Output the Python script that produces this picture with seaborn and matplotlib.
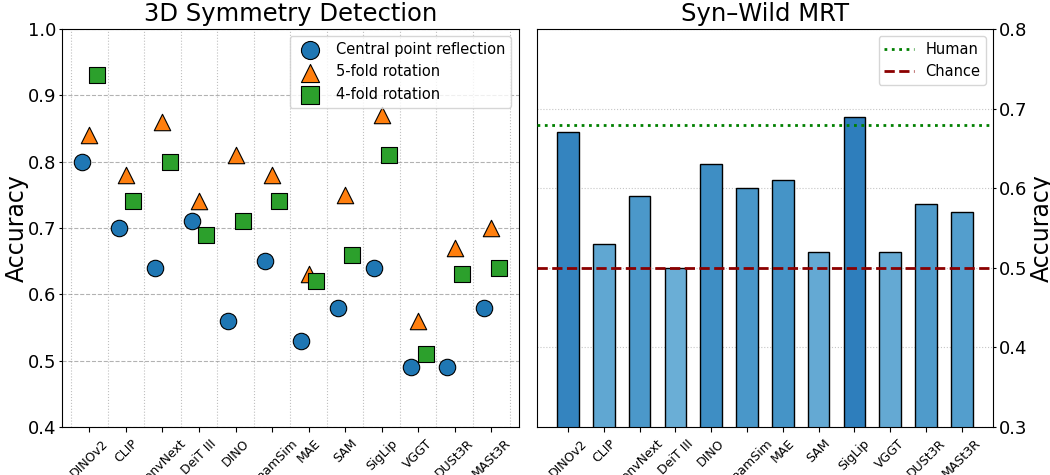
import numpy as np
import pandas as pd
import matplotlib
matplotlib.use("Agg")
import matplotlib.pyplot as plt
from matplotlib.ticker import FixedLocator, MultipleLocator
import seaborn as sns

models = ["DINOv2", "CLIP", "ConvNext", "DeiT III", "DINO", "DreamSim",
          "MAE", "SAM", "SigLip", "VGGT", "DUSt3R", "MASt3R"]

# 3D symmetry detection accuracy per symmetry type
central_reflection = [0.80, 0.70, 0.64, 0.71, 0.56, 0.65, 0.53, 0.58, 0.64, 0.49, 0.49, 0.58]
fivefold_rotation = [0.84, 0.78, 0.86, 0.74, 0.81, 0.78, 0.63, 0.75, 0.87, 0.56, 0.67, 0.70]
fourfold_rotation = [0.93, 0.74, 0.80, 0.69, 0.71, 0.74, 0.62, 0.66, 0.81, 0.51, 0.63, 0.64]

# Syn-Wild mental rotation accuracy
mrt_accuracy = [0.67, 0.53, 0.59, 0.50, 0.63, 0.60, 0.61, 0.52, 0.69, 0.52, 0.58, 0.57]
human_level = 0.68
chance_level = 0.5

fig = plt.figure(figsize=(10.5, 4.75), dpi=100)
ax1 = fig.add_axes([0.059, 0.101, 0.435, 0.838])
ax2 = fig.add_axes([0.511, 0.101, 0.435, 0.838])

# ---- left panel: grouped scatter ----
idx = np.arange(len(models))
series = [
    ("Central point reflection", central_reflection, "o", "#1f77b4", -0.2),
    ("5-fold rotation", fivefold_rotation, "^", "#ff7f0e", 0.0),
    ("4-fold rotation", fourfold_rotation, "s", "#2ca02c", 0.2),
]
for label, vals, marker, color, shift in series:
    df = pd.DataFrame({"x": idx + shift, "acc": vals})
    sns.scatterplot(data=df, x="x", y="acc", ax=ax1, marker=marker, color=color,
                    s=140, edgecolor="black", linewidth=0.8, label=label, zorder=3)

ax1.set_xlim(-0.75, len(models) - 0.25)
ax1.set_ylim(0.4, 1.0)
ax1.yaxis.set_major_locator(MultipleLocator(0.1))
ax1.set_xticks(idx)
ax1.set_xticklabels(models, rotation=45, ha="center", fontsize=9)
ax1.xaxis.set_minor_locator(FixedLocator(np.arange(-0.5, len(models), 1.0)))
ax1.tick_params(axis="x", which="minor", length=0)
ax1.grid(axis="y", which="major", linestyle="--", color="gray", alpha=0.6, zorder=0)
ax1.grid(axis="x", which="minor", linestyle=":", color="gray", alpha=0.5, zorder=0)
ax1.set_axisbelow(True)
ax1.set_xlabel("")
ax1.set_ylabel("Accuracy", fontsize=17)
ax1.yaxis.set_label_coords(-0.072, 0.5)
ax1.set_title("3D Symmetry Detection", fontsize=17.5)
ax1.tick_params(axis="y", labelsize=13, length=2.5, pad=1.5)
ax1.legend(loc="upper right", fontsize=10.5, markerscale=1.1)

# ---- right panel: bars shaded by accuracy ----
norm = plt.Normalize(min(mrt_accuracy), max(mrt_accuracy))
cmap = plt.get_cmap("Blues")
bar_colors = [cmap(0.5 + 0.2 * norm(v)) for v in mrt_accuracy]
bar_df = pd.DataFrame({"model": models, "acc": mrt_accuracy})
sns.barplot(data=bar_df, x="model", y="acc", hue="model", palette=bar_colors,
            legend=False, width=0.6, edgecolor="black", linewidth=1,
            saturation=1, ax=ax2, zorder=2)
ax2.axhline(human_level, color="green", linestyle=":", linewidth=2, label="Human", zorder=3)
ax2.axhline(chance_level, color="#8b0000", linestyle="--", linewidth=2, label="Chance", zorder=3)
ax2.set_xlim(-0.88, len(models) - 0.12)
ax2.set_ylim(0.3, 0.8)
ax2.yaxis.set_major_locator(MultipleLocator(0.1))
ax2.yaxis.tick_right()
ax2.yaxis.set_label_position("right")
ax2.set_xticks(idx)
ax2.set_xticklabels(models, rotation=45, ha="center", fontsize=9)
ax2.grid(axis="y", linestyle=":", color="silver", alpha=0.9, zorder=0)
ax2.set_axisbelow(True)
ax2.set_xlabel("")
ax2.set_ylabel("Accuracy", fontsize=17)
ax2.yaxis.set_label_coords(1.079, 0.5)
ax2.set_title("Syn\u2013Wild MRT", fontsize=17.5)
ax2.tick_params(axis="y", labelsize=13, length=2.5, pad=1.5)
ax2.legend(loc="upper right", fontsize=10.5)

fig.savefig("out.png", dpi=100)
